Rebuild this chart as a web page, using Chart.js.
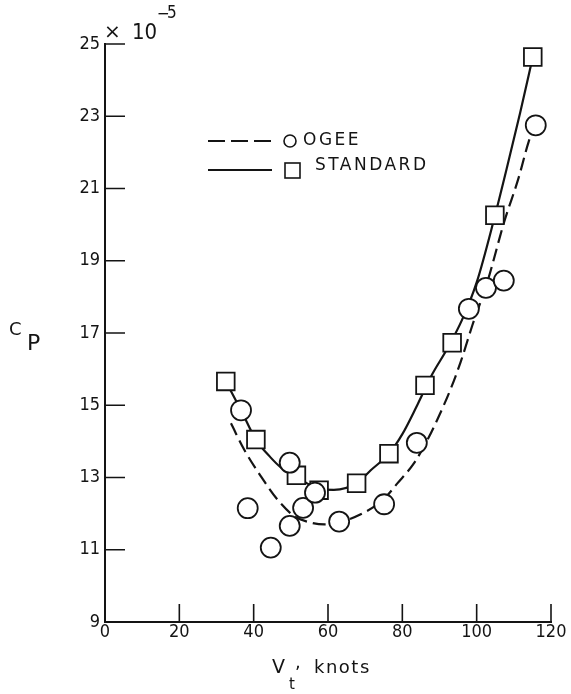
<!DOCTYPE html>
<html>
<head>
<meta charset="utf-8">
<script src="https://cdn.jsdelivr.net/npm/chart.js@4.4.1/dist/chart.umd.min.js"></script>
<style>
    html, body { margin: 0; padding: 0; background: #fff; }
</style>
</head>
<body>
<canvas id="cpChart" width="571" height="694"></canvas>
<script>
// Tip speed (knots) and power coefficient Cp (x 10^-5)
const ogeeSpeed = [36.6, 38.4, 44.6, 49.7, 49.7, 53.3, 56.5, 63.0, 75.1, 83.9, 97.9, 102.5, 107.3, 115.9];
const ogeeCp    = [14.86, 12.15, 11.06, 11.66, 13.41, 12.16, 12.58, 11.78, 12.26, 13.96, 17.67, 18.25, 18.45, 22.75];

const standardSpeed = [32.5, 40.6, 51.5, 57.6, 67.7, 76.4, 86.1, 93.4, 104.9, 115.1];
const standardCp    = [15.66, 14.05, 13.06, 12.65, 12.84, 13.66, 15.55, 16.73, 20.26, 24.64];

// faired curves as drawn on the figure
const ogeeCurveSpeed = [33.9, 37.4, 41.9, 46.4, 50.9, 55.0, 59.0, 63.0, 68.8, 75.0, 78.6, 83.1, 86.7, 89.4, 93.0, 95.7, 98.8, 102.9, 107.3, 111.3, 114.0, 115.5];
const ogeeCurveCp    = [14.50, 13.78, 13.04, 12.39, 11.93, 11.76, 11.70, 11.76, 11.98, 12.40, 12.83, 13.39, 14.03, 14.60, 15.45, 16.20, 17.20, 18.42, 20.04, 21.30, 22.30, 22.70];

const standardCurveSpeed = [32.5, 36.6, 40.6, 44.6, 47.3, 51.5, 54.9, 57.6, 61.6, 67.7, 71.5, 76.4, 80.0, 84.0, 88.0, 92.0, 96.0, 100.0, 104.8, 108.2, 111.7, 115.1];
const standardCurveCp    = [15.66, 14.86, 14.05, 13.55, 13.28, 13.02, 12.81, 12.67, 12.66, 12.84, 13.20, 13.66, 14.20, 15.00, 15.85, 16.55, 17.35, 18.40, 20.20, 21.60, 23.10, 24.64];

const xTicks = [0, 20, 40, 60, 80, 100, 120];
const yTicks = [9, 11, 13, 15, 17, 19, 21, 23, 25];

const seriesLabels = ['OGEE', 'STANDARD'];

const INK = '#141414';
const FONT = "'DejaVu Sans', sans-serif";
const NUM_FONT = "'DejaVu Sans Condensed', 'DejaVu Sans', sans-serif";

function toXY(xs, ys) {
    return xs.map((x, i) => ({ x: x, y: ys[i] }));
}

// inward tick marks, legend and the hand-lettered titles
const figureDecor = {
    id: 'figureDecor',
    afterDraw(chart) {
        const { ctx, chartArea: a, scales: { x, y } } = chart;
        ctx.save();
        ctx.strokeStyle = INK;
        ctx.fillStyle = INK;

        ctx.lineWidth = 1.6;
        ctx.beginPath();
        x.ticks.forEach(t => {
            const px = x.getPixelForValue(t.value);
            ctx.moveTo(px, a.bottom);
            ctx.lineTo(px, a.bottom - 18);
        });
        y.ticks.forEach(t => {
            const py = y.getPixelForValue(t.value);
            ctx.moveTo(a.left, py);
            ctx.lineTo(a.left + 20, py);
        });
        ctx.stroke();

        // legend
        ctx.lineWidth = 2.2;
        ctx.setLineDash([17, 6]);
        ctx.beginPath();
        ctx.moveTo(208, 141);
        ctx.lineTo(272, 141);
        ctx.stroke();
        ctx.setLineDash([]);
        ctx.beginPath();
        ctx.moveTo(208, 170);
        ctx.lineTo(272, 170);
        ctx.stroke();

        ctx.lineWidth = 1.6;
        ctx.beginPath();
        ctx.arc(290, 141, 6, 0, Math.PI * 2);
        ctx.stroke();
        ctx.strokeRect(285, 163, 15, 15);

        ctx.font = '17px ' + FONT;
        ctx.letterSpacing = '2.5px';
        ctx.textBaseline = 'middle';
        ctx.textAlign = 'left';
        ctx.fillText(seriesLabels[0], 303, 141);
        ctx.fillText(seriesLabels[1], 315, 166);
        ctx.letterSpacing = '0px';

        // multiplier at top of y axis
        ctx.textBaseline = 'alphabetic';
        ctx.font = '20px ' + FONT;
        ctx.fillText('\u00d7', 104, 38);
        ctx.font = '22px ' + NUM_FONT;
        ctx.fillText('10', 132, 39);
        ctx.font = '17px ' + NUM_FONT;
        ctx.fillText('\u2212', 157, 19);
        ctx.fillText('5', 167, 18);

        // y axis title
        ctx.font = '18px ' + FONT;
        ctx.fillText('C', 9, 335);
        ctx.font = '22px ' + FONT;
        ctx.fillText('P', 27, 350);

        // x axis title
        ctx.font = '19px ' + FONT;
        ctx.fillText('V', 272, 673);
        ctx.font = '15px ' + FONT;
        ctx.fillText('t', 289, 689);
        ctx.font = '18px ' + FONT;
        ctx.fillText(',', 295, 668);
        ctx.letterSpacing = '1.5px';
        ctx.fillText('knots', 314, 673);
        ctx.restore();
    }
};

const ctx = document.getElementById('cpChart').getContext('2d');

new Chart(ctx, {
    type: 'scatter',
    data: {
        datasets: [
            {
                label: seriesLabels[0],
                data: toXY(ogeeSpeed, ogeeCp),
                pointStyle: 'circle',
                pointRadius: 10,
                pointBorderWidth: 1.8,
                pointBorderColor: INK,
                pointBackgroundColor: '#fff',
                order: 0
            },
            {
                label: seriesLabels[1],
                data: toXY(standardSpeed, standardCp),
                pointStyle: 'rect',
                pointRadius: 12.5,
                pointBorderWidth: 1.8,
                pointBorderColor: INK,
                pointBackgroundColor: '#fff',
                order: 0
            },
            {
                label: seriesLabels[0] + ' curve',
                data: toXY(ogeeCurveSpeed, ogeeCurveCp),
                showLine: true,
                pointRadius: 0,
                borderColor: INK,
                borderWidth: 2.2,
                borderDash: [13, 6],
                cubicInterpolationMode: 'monotone',
                order: 1
            },
            {
                label: seriesLabels[1] + ' curve',
                data: toXY(standardCurveSpeed, standardCurveCp),
                showLine: true,
                pointRadius: 0,
                borderColor: INK,
                borderWidth: 2.2,
                cubicInterpolationMode: 'monotone',
                order: 1
            }
        ]
    },
    options: {
        responsive: false,
        animation: false,
        events: [],
        layout: { padding: { top: 44, right: 20, bottom: 0, left: 0 } },
        plugins: {
            legend: { display: false },
            tooltip: { enabled: false }
        },
        scales: {
            x: {
                type: 'linear',
                min: 0,
                max: 120,
                afterBuildTicks: s => { s.ticks = xTicks.map(v => ({ value: v })); },
                afterFit: s => { s.height = 72; },
                grid: { display: false, drawTicks: false },
                border: { display: true, color: INK, width: 2 },
                ticks: { color: INK, padding: 0, font: { family: NUM_FONT, size: 18 } }
            },
            y: {
                type: 'linear',
                min: 9,
                max: 25,
                afterBuildTicks: s => { s.ticks = yTicks.map(v => ({ value: v })); },
                afterFit: s => { s.width = 105; },
                grid: { display: false, drawTicks: false },
                border: { display: true, color: INK, width: 2 },
                ticks: { color: INK, padding: 5, font: { family: NUM_FONT, size: 18 } }
            }
        }
    },
    plugins: [figureDecor]
});
</script>
</body>
</html>
